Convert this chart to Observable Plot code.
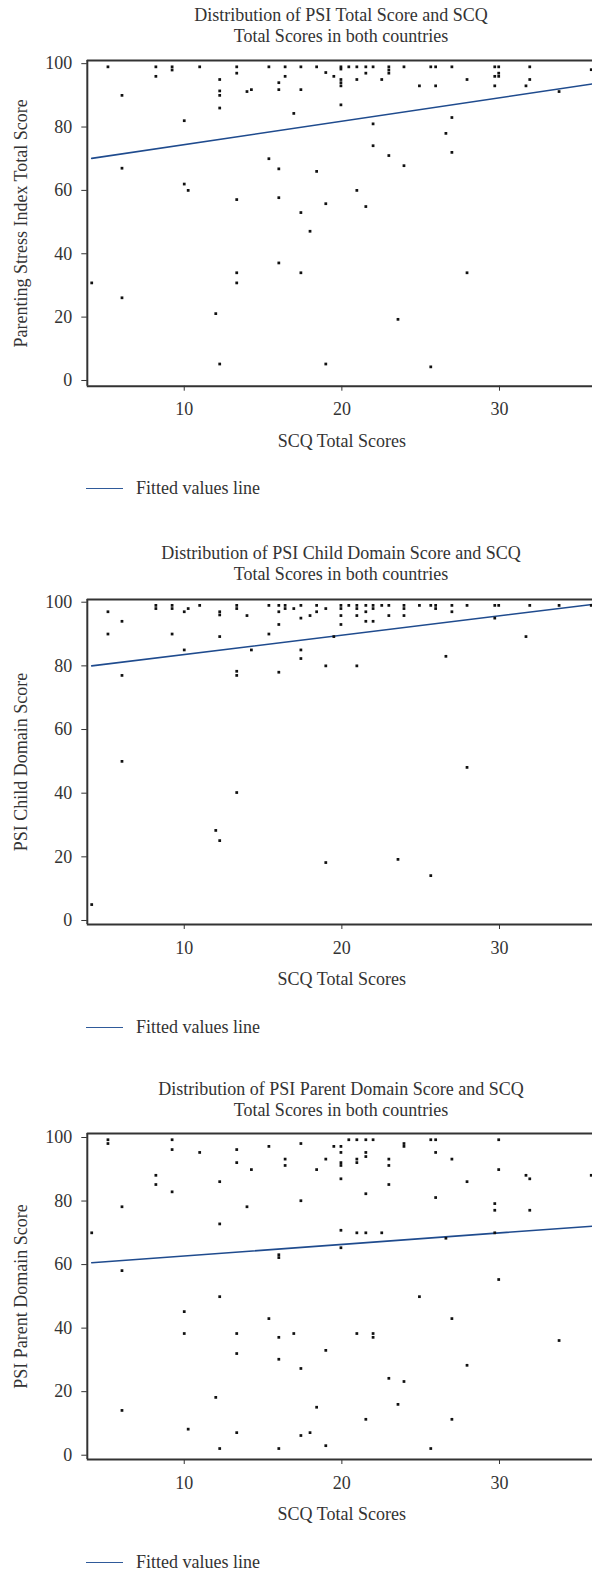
<!DOCTYPE html>
<html>
<head>
<meta charset="utf-8">
<script src="https://cdn.jsdelivr.net/npm/d3@7"></script>
<script src="https://cdn.jsdelivr.net/npm/@observablehq/plot@0.6"></script>
<style>
  html, body { margin: 0; padding: 0; background: #fff; overflow: hidden; }
  #root { position: relative; width: 592px; height: 1573px; font-family: "Liberation Serif", serif; color: #333; }
  .title { position: absolute; left: 90px; width: 502px; text-align: center; font-size: 18px; line-height: 21px; }
  .legend { position: absolute; left: 86px; height: 20px; display: flex; align-items: center; font-size: 18px; }
  .legend .sw { display: inline-block; width: 37px; height: 0; border-top: 1.5px solid #2f5a9a; margin-right: 13px; }
  .plotbox { position: absolute; left: 0; }
  .plotbox svg text { font-family: "Liberation Serif", serif; }
</style>
</head>
<body>
<div id="root"></div>
<script>
// ---------- data ----------
const xLabel = "SCQ Total Scores";
const legendLabel = "Fitted values line";
const xTicks = [10, 20, 30];
const yTicks = [0, 20, 40, 60, 80, 100];
const xDomain = [3.85, 35.9];

const titles = [
  ["Distribution of PSI Total Score and SCQ", "Total Scores in both countries"],
  ["Distribution of PSI Child Domain Score and SCQ", "Total Scores in both countries"],
  ["Distribution of PSI Parent Domain Score and SCQ", "Total Scores in both countries"]
];
const yLabels = ["Parenting Stress Index Total Score", "PSI Child Domain Score", "PSI Parent Domain Score"];

// Panel 1: PSI Total Score
const totalX = [5.16,6.05,6.05,8.2,8.2,9.23,9.23,10,10.98,12.25,12.25,12.25,12.25,13.33,13.33,13.98,14.26,15.37,15.37,16,16,16,16.4,16.4,16.95,17.4,17.4,18.4,18.4,18.98,19.49,19.94,19.94,19.94,19.94,19.94,19.94,20.44,20.95,20.95,20.95,21.52,21.52,21.98,21.98,21.98,22.53,22.98,22.98,22.98,22.98,23.94,23.94,24.92,25.64,25.95,25.95,26.6,26.98,26.98,26.98,27.94,29.7,29.95,29.7,29.95,29.95,29.7,31.68,31.92,31.92,33.78,35.82,
  10,10.25,13.33,16,17.4,18.98,21.52,17.98,4.13,6.05,13.33,13.33,16,17.4,27.94,12,23.56,12.25,18.98,25.64];
const totalY = [99,90,67,99,96,99,98,82,99,95,91.4,90,86,99,97,91.2,91.8,99,70,94,91.8,66.8,99,96,84.3,99,91.8,99,66,97.2,96,99,98.3,95,94,93,87,99,99,95,60,99,97,99,81,74.1,95,99,98,97,71,99,67.8,93,99,99,93,78,99,83,72,95,99,99,96,96,97,93,93,99,95,91.2,98.1,
  62,60,57.1,57.7,53,55.8,54.9,47.1,30.8,26.1,34,30.8,37.1,34,34,21.1,19.3,5.2,5.2,4.3];

// Panel 2: PSI Child Domain Score
const childX = [5.16,5.16,6.05,6.05,8.2,8.2,9.23,9.23,9.23,10,10.25,10,10.98,12.25,12.25,12.25,13.33,13.33,13.33,13.33,13.98,14.26,15.37,15.37,16,16,16,16,16.4,16.4,16.95,17.4,17.4,17.4,17.4,17.98,18.4,18.4,18.98,18.98,19.49,19.94,19.94,19.94,19.94,20.44,20.95,20.95,20.95,20.95,21.52,21.52,21.52,21.98,21.98,21.98,22.53,22.98,22.98,23.94,23.94,23.94,24.92,25.64,25.95,25.95,26.6,26.98,26.98,27.94,29.7,29.95,29.7,31.68,31.92,33.78,35.82,
  6.05,13.33,12,12.25,18.98,23.56,25.64,27.94,4.13];
const childY = [97,90,94,77,99,98,99,98,90,97,98,85,99,97,96,89.2,99,98,78.3,77,95.8,85,99,90,99,97,93,78,99,98,98,99,95,85,82.3,95.8,99,97,98,80,89.2,99,98,95.8,93,99,99,98,95.8,80,99,97,94,99,98,94,99,99,95.8,99,98,95.8,99,99,99,98,83,99,97,99,99,99,95,89.2,99,99,99,
  50,40.2,28.3,25.1,18.2,19.2,14.1,48.1,5];

// Panel 3: PSI Parent Domain Score
const parentX = [4.13,5.16,5.16,6.05,8.2,8.2,9.23,9.23,9.23,10.98,12.25,12.25,13.33,13.33,13.98,14.26,15.37,16.4,16.4,17.4,17.4,18.4,18.98,19.49,19.94,19.94,19.94,19.94,19.94,19.94,20.44,20.95,20.95,20.95,20.95,21.52,21.52,21.52,21.52,21.52,21.98,22.53,22.98,22.98,22.98,23.94,23.94,25.64,25.95,25.95,25.95,26.6,26.98,27.94,29.7,29.7,29.7,29.95,29.95,31.68,31.92,31.92,35.82,
  19.94,16,16,6.05,29.95,12.25,24.92,10,15.37,26.98,10,13.33,16.95,20.95,21.98,21.98,16,33.78,18.98,13.33,16,17.4,27.94,22.98,23.94,12,6.05,18.4,23.56,21.52,26.98,10.25,13.33,12.25,16,17.4,17.98,18.98,25.64];
const parentY = [70,99.3,98.1,78.2,88.1,85.2,99.3,96.2,82.9,95.3,86.1,72.8,96.2,92.1,78.2,89.9,97.2,93.2,91.2,98.1,80.1,89.9,93.2,97.2,97.2,95.3,92.1,91.2,87,70.8,99.3,99.3,93.2,92.1,70,99.3,95.3,94,82.3,70,99.3,70,93.2,91.2,85.2,98.1,97.2,99.3,99.3,95.3,81.1,68.3,93.2,86.1,79.2,77.1,70,99.3,89.9,88.1,87,77.1,88.1,
  65.3,63.1,62.2,58.1,55.3,49.9,49.9,45.2,43,43,38.3,38.3,38.3,38.3,38.3,37.1,37.1,36.1,33,32,30.2,27.3,28.3,24.2,23.2,18.2,14.1,15.1,16,11.3,11.3,8.2,7.1,2.1,2.1,6.2,7.1,3,2.1];

// Fitted values lines (end points)
const fitX = [4.13, 35.9];
const fitTotalY = [70.1, 93.6];
const fitChildY = [80.0, 99.3];
const fitParentY = [60.6, 72.1];

// ---------- layout ----------
const panels = [
  {xs: totalX, ys: totalY, fitY: fitTotalY, yDomain: [-1.8, 101], titleTop: 5.2, frameTop: 60, frameBottom: 385.7, legendY: 488},
  {xs: childX, ys: childY, fitY: fitChildY, yDomain: [-1.26, 100.85], titleTop: 542.8, frameTop: 599, frameBottom: 924, legendY: 1027.3},
  {xs: parentX, ys: parentY, fitY: fitParentY, yDomain: [-1.35, 101.26], titleTop: 1078.8, frameTop: 1133.3, frameBottom: 1459.3, legendY: 1562.7}
];

const root = document.getElementById("root");
const ink = "#333";
const lineColor = "#1f4b8e";
const serif = "Liberation Serif, serif";

panels.forEach((p, i) => {
  const t = document.createElement("div");
  t.className = "title";
  t.style.top = p.titleTop + "px";
  t.innerHTML = titles[i].join("<br>");
  root.appendChild(t);

  const data = p.xs.map((x, k) => ({x, y: p.ys[k]}));
  const fit = fitX.map((x, k) => ({x, y: p.fitY[k]}));
  const mt = 10, mb = 75;
  const h = mt + (p.frameBottom - p.frameTop) + mb;

  const chart = Plot.plot({
    width: 592,
    height: h,
    marginLeft: 86.8,
    marginRight: 0,
    marginTop: mt,
    marginBottom: mb,
    style: {fontFamily: serif, fontSize: "18px", color: ink, background: "transparent", overflow: "visible"},
    x: {domain: xDomain},
    y: {domain: p.yDomain},
    marks: [
      Plot.axisX({ticks: xTicks, tickSize: 5, tickPadding: 11.5, label: null, fontSize: 18, fontFamily: serif, stroke: ink}),
      Plot.axisY({ticks: yTicks, tickSize: 5.5, tickPadding: 9.5, label: null, fontSize: 18, fontFamily: serif, stroke: ink}),
      Plot.ruleX([xDomain[0]], {stroke: ink, strokeWidth: 2}),
      Plot.ruleY(p.yDomain, {stroke: ink, strokeWidth: 2}),
      Plot.text([xLabel], {text: d => d, frameAnchor: "bottom", lineAnchor: "middle", textAnchor: "middle", dy: 55, dx: 1.9, fontSize: 18, fontFamily: serif, fill: ink}),
      Plot.text([yLabels[i]], {text: d => d, frameAnchor: "left", lineAnchor: "middle", textAnchor: "middle", dx: -66, rotate: -90, fontSize: 18, fontFamily: serif, fill: ink}),
      Plot.line(fit, {x: "x", y: "y", stroke: lineColor, strokeWidth: 1.6}),
      Plot.dot(data, {x: "x", y: "y", symbol: "square", r: 1.55, fill: "#111", stroke: null})
    ]
  });
  const box = document.createElement("div");
  box.className = "plotbox";
  box.style.top = (p.frameTop - mt) + "px";
  box.appendChild(chart);
  root.appendChild(box);

  const lg = document.createElement("div");
  lg.className = "legend";
  lg.style.top = (p.legendY - 10) + "px";
  lg.innerHTML = '<span class="sw"></span><span>' + legendLabel + '</span>';
  root.appendChild(lg);
});
</script>
</body>
</html>
